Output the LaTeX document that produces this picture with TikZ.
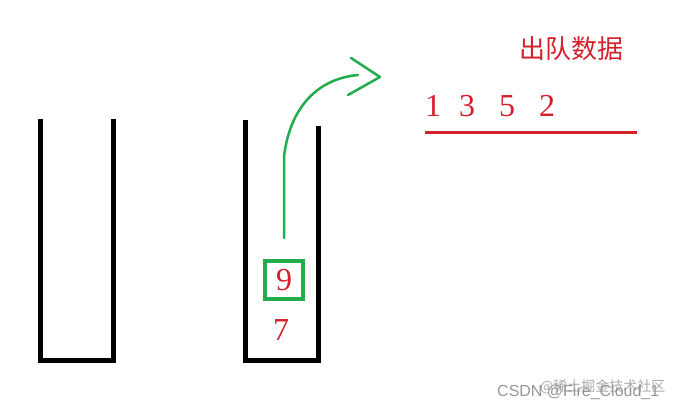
\documentclass[tikz,border=0pt]{standalone}
\usepackage{fontspec}
\setmainfont{Liberation Serif}
\newfontfamily\cjk{Noto Sans CJK SC}
\newfontfamily\markfont{Liberation Sans}
\usetikzlibrary{calc}
\definecolor{popred}{RGB}{212,32,42}
\definecolor{popgreen}{RGB}{34,172,76}
\definecolor{markgray}{RGB}{150,150,150}
\tikzset{
    % the walls of a stack
    stackwall/.style={line width=5pt, line join=miter, draw=black},
    digit/.style={text=popred, font=\fontsize{32}{32}\selectfont, inner sep=0pt},
    popbox/.style={draw=popgreen, line width=4pt, minimum size=38pt, inner sep=0pt},
    popline/.style={draw=popgreen, line width=2.5pt, line cap=round, line join=round},
    watermark/.style={text=markgray, inner sep=0pt, anchor=west}
}

\begin{document}
\begin{tikzpicture}[x=1pt, y=-1pt]
            \useasboundingbox (0,0) rectangle (679,411);
            % two stacks
            \draw[stackwall] (40.5,119) -- (40.5,360) -- (113.5,360) -- (113.5,119);
            \draw[stackwall] (245,120) -- (245,360.5) -- (318.5,360.5) -- (318.5,126);
            \node[digit, popbox] (nine) at (284,280) {9};
            \node[digit] (seven) at (281,330) {7};
            % popped element
            \coordinate (out) at (380,77);
            \draw[popline] ([yshift=21pt]nine.north) -- ++(0,-81)
                .. controls (289,112) and (314,79) .. (358,75);
            \draw[popline] (out) ++(-29,-19) -- (out) -- ++(-32,18);
            \node[text=popred, font=\cjk\fontsize{26}{26}\selectfont, inner sep=0pt] (label) at (571,49) {出队数据};
            \foreach \d/\x in {1/433, 3/467, 5/507, 2/547} {
                \node[digit] (d\d) at (\x,106) {\d};
            }
            \draw[popred, line width=3pt] (425,133) -- (637,133);
            \node[watermark, font=\markfont\fontsize{16}{16}\selectfont] (csdn) at (497,392) {CSDN @Fire\_Cloud\_1};
            \node[watermark, font=\cjk\fontsize{14}{14}\selectfont, opacity=0.8] (juejin) at (540,387) {@稀土掘金技术社区};
\end{tikzpicture}
\end{document}
